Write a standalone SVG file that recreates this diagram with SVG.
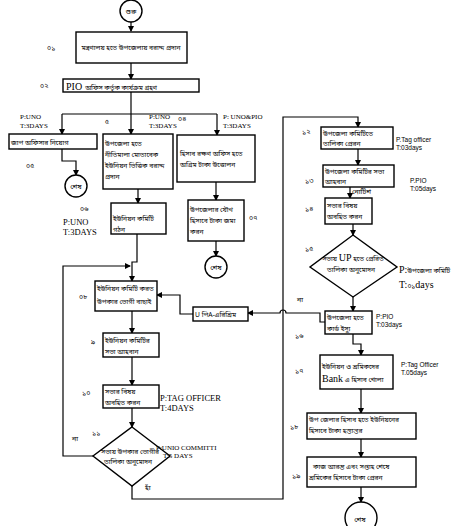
<svg xmlns="http://www.w3.org/2000/svg" width="459" height="526" viewBox="0 0 459 526">
<style>
.b{fill:#fff;stroke:#000;stroke-width:1.4}
.c{fill:none;stroke:#000;stroke-width:1.2}
.t{font-family:"Noto Sans Bengali","Noto Sans","Liberation Sans",sans-serif;font-size:6.7px;fill:#000}
.n{font-family:"Noto Sans Bengali","Noto Sans","Liberation Sans",sans-serif;font-size:7px;fill:#000}
.s{font-family:"Liberation Serif",serif;font-size:8.5px;fill:#000}
.sl{font-family:"Liberation Serif",serif;font-size:10px;fill:#000}
.st{font-family:"Liberation Serif",serif;font-size:7px;fill:#000}
.ss{font-family:"Liberation Sans",sans-serif;font-size:6.5px;fill:#000}
</style>
<defs>
<marker id="a" markerWidth="6" markerHeight="6" refX="5" refY="3" orient="auto" markerUnits="userSpaceOnUse">
<path d="M0,0 L6,3 L0,6 z" fill="#000"/>
</marker>
</defs>
<rect width="459" height="526" fill="#fff"/>
<g id="connectors" class="c">
<path d="M131,22 V31" marker-end="url(#a)"/>
<path d="M131,63 V79" marker-end="url(#a)"/>
<path d="M131,92 V114"/>
<path d="M62,114 H217"/>
<path d="M62,114 V134" marker-end="url(#a)"/>
<path d="M131,114 V134" marker-end="url(#a)"/>
<path d="M217,114 V135" marker-end="url(#a)"/>
<path d="M62,149 V161 H76 V175" marker-end="url(#a)"/>
<path d="M138,189 V203" marker-end="url(#a)"/>
<path d="M216,182 V200" marker-end="url(#a)"/>
<path d="M216,241 V256" marker-end="url(#a)"/>
<path d="M137,234 V262 H132 V281" marker-end="url(#a)"/>
<path d="M93,456 H63 V266 H130" marker-end="url(#a)"/>
<path d="M132,311 V333" marker-end="url(#a)"/>
<path d="M132,357 V385" marker-end="url(#a)"/>
<path d="M132,408 V427" marker-end="url(#a)"/>
<path d="M132,486 V499 H283 V117 H358 V127" marker-end="url(#a)"/>
<path d="M358,149 V165" marker-end="url(#a)"/>
<path d="M350,187 V198" marker-end="url(#a)"/>
<path d="M353,224 V235" marker-end="url(#a)"/>
<path d="M353,297 V311" marker-end="url(#a)"/>
<path d="M353,334 V344 H361 V355" marker-end="url(#a)"/>
<path d="M361,389 V413" marker-end="url(#a)"/>
<path d="M361,439 V457" marker-end="url(#a)"/>
<path d="M361,487 V502" marker-end="url(#a)"/>
<path d="M325,322 H320 V313 H286 A3,3 0 0 0 280,313 H248" marker-end="url(#a)"/>
<path d="M193,314 H180 V295 H157" marker-end="url(#a)"/>
</g>
<g id="start">
<circle class="b" cx="131" cy="11" r="11"/>
<text class="n" x="131" y="14" text-anchor="middle">শুরু</text>
</g>
<g id="n01">
<rect class="b" x="76" y="32" width="111" height="31"/>
<text class="t" x="131" y="50" text-anchor="middle">মন্ত্রণালয় হতে উপজেলায় বরাদ্দ প্রদান</text>
<text class="n" x="47" y="50">০১</text>
</g>
<g id="n02">
<rect class="b" x="63" y="79" width="136" height="13"/>
<text x="66" y="90"><tspan class="sl" font-size="11">PIO</tspan><tspan class="t" dx="3">অফিস কর্তৃক কার্যক্রম গ্রহণ</tspan></text>
<text class="n" x="40" y="88">০২</text>
</g>
<g id="n03">
<rect class="b" x="9" y="134" width="88" height="15"/>
<text class="t" x="11" y="145">জাপ অফিসার নিয়োগ</text>
<text class="n" x="26" y="168">০৫</text>
<text class="st" x="20" y="119">P:UNO</text>
<text class="st" x="20" y="128">T:3DAYS</text>
</g>
<g id="end1">
<circle class="b" cx="76" cy="186" r="11"/>
<text class="n" x="76" y="189" text-anchor="middle" font-size="6">শেষ</text>
</g>
<g id="n05">
<rect class="b" x="103" y="134" width="70" height="55"/>
<text class="t" x="105" y="146">উপজেলা হতে</text>
<text class="t" x="105" y="157">নীতিমালা মোতাবেক</text>
<text class="t" x="105" y="168">ইউনিয়ন ভিত্তিক বরাদ্দ</text>
<text class="t" x="105" y="179">প্রদান</text>
<text class="n" x="105" y="124">৫</text>
<text class="st" x="149" y="119">P:UNO</text>
<text class="st" x="149" y="128">T:3DAYS</text>
<text class="n" x="178" y="121">০৪</text>
</g>
<g id="n06">
<rect class="b" x="111" y="203" width="55" height="31"/>
<text class="t" x="113" y="221">ইউনিয়ন কমিটি</text>
<text class="t" x="113" y="232">গঠন</text>
<text class="n" x="80" y="211">০৬</text>
<text class="s" x="63" y="225">P:UNO</text>
<text class="s" x="63" y="235">T:3DAYS</text>
</g>
<g id="n08">
<rect class="b" x="177" y="135" width="78" height="47"/>
<text class="t" x="180" y="156">হিসাব রক্ষণ অফিস হতে</text>
<text class="t" x="180" y="167">অগ্রিম টাকা উত্তোলন</text>
<text class="st" x="223" y="119">P: UNO&amp;PIO</text>
<text class="st" x="223" y="128">T:3DAYS</text>
</g>
<g id="n07">
<rect class="b" x="188" y="200" width="56" height="41"/>
<text class="t" x="190" y="212">উপজেলার যৌথ</text>
<text class="t" x="190" y="223">হিসাবে টাকা জমা</text>
<text class="t" x="190" y="234">করন</text>
<text class="n" x="249" y="220">০৭</text>
</g>
<g id="end2">
<circle class="b" cx="216" cy="267" r="11"/>
<text class="n" x="216" y="270" text-anchor="middle" font-size="6">শেষ</text>
</g>
<g id="n09">
<rect class="b" x="95" y="281" width="62" height="30"/>
<text class="t" x="97" y="291">ইউনিয়ন কমিটি করত</text>
<text class="t" x="97" y="304">উপকার ভোগী বাছাই</text>
<text class="n" x="79" y="299">০৮</text>
</g>
<g id="nU">
<rect class="b" x="193" y="307" width="55" height="14"/>
<text class="t" x="195" y="317">U পিA-এরিশ্রিম</text>
</g>
<g id="n10">
<rect class="b" x="103" y="333" width="56" height="24"/>
<text class="t" x="105" y="343">ইউনিয়ন কমিটির</text>
<text class="t" x="105" y="354">সভা আহবান</text>
<text class="n" x="91" y="344">৯</text>
</g>
<g id="n10b">
<rect class="b" x="103" y="385" width="56" height="23"/>
<text class="t" x="105" y="394">সভার বিষয়</text>
<text class="t" x="105" y="405">অবহিত করন</text>
<text class="n" x="82" y="395">১০</text>
<text class="s" x="160" y="401">P:TAG OFFICER</text>
<text class="s" x="160" y="411">T:4DAYS</text>
</g>
<g id="n11">
<polygon class="b" points="132,427 170,456 132,486 93,456"/>
<text class="t" x="130" y="454" text-anchor="middle">সভায় উপকার ভোগীর</text>
<text class="t" x="128" y="464" text-anchor="middle">তালিকা অনুমোদন</text>
<text class="n" x="92" y="435">১১</text>
<text class="n" x="72" y="441">না</text>
<text class="n" x="145" y="490">হাঁ</text>
<text class="st" x="156" y="450" font-size="6.5">P:UNIO COMMITTI</text>
<text class="st" x="163" y="458" font-size="6.5">T:5 DAYS</text>
</g>
<g id="n12">
<rect class="b" x="321" y="127" width="72" height="22"/>
<text class="t" x="323" y="136">উপজেলা কমিটিতে</text>
<text class="t" x="323" y="146">তালিকা প্রেরন</text>
<text class="n" x="302" y="134">১২</text>
<text class="ss" x="396" y="142">P.Tag officer</text>
<text class="ss" x="396" y="150">T:03days</text>
</g>
<g id="n13">
<rect class="b" x="323" y="165" width="71" height="22"/>
<text class="t" x="325" y="174">উপজেলা কমিটির সভা</text>
<text class="t" x="325" y="184">আহবান</text>
<text class="n" x="305" y="183">১৩</text>
<text class="ss" x="410" y="183">P.PIO</text>
<text class="ss" x="410" y="191">T:05days</text>
<text class="n" x="352" y="194">নোটিশ</text>
</g>
<g id="n14">
<rect class="b" x="325" y="198" width="47" height="26"/>
<text class="t" x="327" y="208">সভার বিষয়</text>
<text class="t" x="327" y="219">অবহিত করন</text>
<text class="n" x="305" y="211">১৪</text>
</g>
<g id="n15">
<polygon class="b" points="353,235 397,267 353,297 310,267"/>
<text x="353" y="261" text-anchor="middle"><tspan class="t">সভায় </tspan><tspan class="sl" font-size="10">UP</tspan><tspan class="t"> হতে প্রেরিত</tspan></text>
<text class="t" x="351" y="272" text-anchor="middle">তালিকা অনুমোদন</text>
<text class="n" x="305" y="251">১৫</text>
<text x="399" y="273"><tspan class="sl">P:</tspan><tspan class="t" font-size="8">উপজেলা কমিটি</tspan></text>
<text x="399" y="288"><tspan class="sl">T:</tspan><tspan class="t" font-size="8">০১</tspan><tspan class="sl">days</tspan></text>
<text class="n" x="297" y="302">না</text>
</g>
<g id="n16">
<rect class="b" x="325" y="311" width="47" height="23"/>
<text class="t" x="327" y="320">উপজেলা হতে</text>
<text class="t" x="327" y="331">কার্ড ইস্যু</text>
<text class="n" x="295" y="338">১৬</text>
<text class="ss" x="376" y="319">P:PIO</text>
<text class="ss" x="376" y="327">T:03days</text>
</g>
<g id="n17">
<rect class="b" x="320" y="355" width="73" height="34"/>
<text class="t" x="322" y="369">ইউনিয়ন ও শ্রমিকদের</text>
<text x="322" y="382"><tspan class="sl" font-size="11">Bank</tspan><tspan class="t"> এ হিসাব খোলা</tspan></text>
<text class="n" x="295" y="373">১৭</text>
<text class="ss" x="401" y="367">P:Tag Officer</text>
<text class="ss" x="401" y="375">T.05days</text>
</g>
<g id="n18">
<rect class="b" x="307" y="413" width="109" height="26"/>
<text class="t" x="309" y="422">উপ জেলার হিসাব হতে  ইউনিয়নের</text>
<text class="t" x="309" y="433">হিসাবে টাকা হস্তান্তর</text>
<text class="n" x="290" y="429">১৮</text>
</g>
<g id="n19">
<rect class="b" x="307" y="457" width="109" height="30"/>
<text class="t" x="313" y="469">কাজ আরম্ভ এবং সপ্তাহ শেষে</text>
<text class="t" x="309" y="480">শ্রমিকের হিসাবে টাকা প্রেরন</text>
<text class="n" x="292" y="478">১৯</text>
</g>
<g id="end3">
<circle class="b" cx="361" cy="518" r="16"/>
<text class="n" x="360" y="522" text-anchor="middle">শেষ</text>
</g>
</svg>
